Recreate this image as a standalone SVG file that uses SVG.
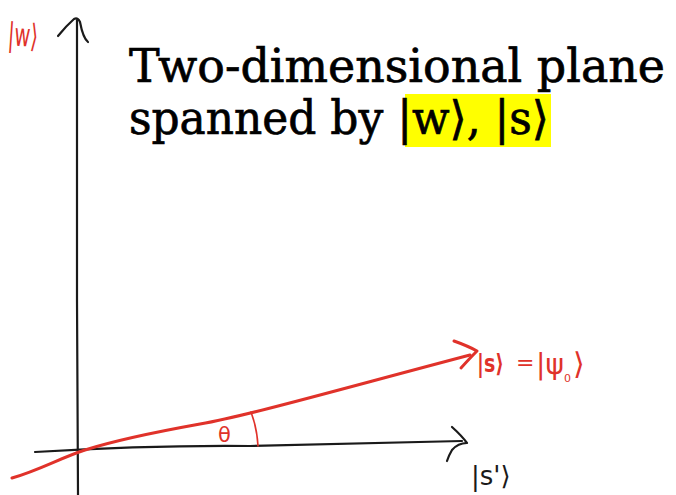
<svg xmlns="http://www.w3.org/2000/svg" width="676" height="495" viewBox="0 0 676 495">
<style>
.title{font-family:"DejaVu Serif","Liberation Serif",serif;font-size:46px;fill:#000;stroke:#000;stroke-width:0.7}
.ink{fill:none;stroke:#1a1a1a;stroke-width:2.2;stroke-linecap:round;stroke-linejoin:round}
.red{fill:none;stroke:#e0322a;stroke-width:3;stroke-linecap:round;stroke-linejoin:round}
.redthin{fill:none;stroke:#e0322a;stroke-width:1.6;stroke-linecap:round}
.hand{font-family:"DejaVu Sans","Liberation Sans",sans-serif;fill:#e0322a}
.handk{font-family:"DejaVu Sans","Liberation Sans",sans-serif;fill:#1a1a1a}
</style>
<rect width="676" height="495" fill="#fff"/>
<g id="title">
<rect x="405" y="94" width="146" height="53" fill="#ffff00"/>
<text class="title" x="129" y="82" textLength="536" lengthAdjust="spacingAndGlyphs">Two-dimensional plane</text>
<text class="title" x="129" y="134" textLength="420" lengthAdjust="spacingAndGlyphs">spanned by |w⟩, |s⟩</text>
</g>
<g id="connectors">
<g id="axis-w">
<path class="ink" d="M78,495 L77,300 L77,20"/>
<path class="ink" d="M58,36 Q66,26 74,19 Q78,17 80,22 Q83,38 88,42"/>
</g>
<g id="axis-sprime">
<path class="ink" d="M35,452 Q150,445 250,446 Q360,443 462,441"/>
<path class="ink" d="M452,427 Q462,436 467,443 Q458,443 452,450 Q449,455 447,461"/>
</g>
<g id="vector-s">
<path class="red" d="M12,478 C40,470 60,458 85,450 S150,433 200,424 S330,392 470,355"/>
<path class="red" d="M454,341 Q468,346 477,351 Q470,358 461,368"/>
</g>
<path id="angle" class="redthin" d="M251,412 Q257,428 258,446"/>
</g>
<g id="labels">
<text class="hand" x="8" y="46" font-size="32" transform="rotate(4 20 35)" textLength="30" lengthAdjust="spacingAndGlyphs">|w⟩</text>
<text class="hand" x="477" y="372" font-size="25" font-weight="bold" textLength="27" lengthAdjust="spacingAndGlyphs">|s⟩</text>
<text class="hand" x="516" y="370" font-size="22">=</text>
<text class="hand" x="536" y="374" font-size="28">|ψ<tspan font-size="11" dy="8">0</tspan><tspan dy="-8" dx="2" font-size="30">⟩</tspan></text>
<text class="hand" x="218" y="442" font-size="21">θ</text>
<text class="handk" x="471" y="485" font-size="26">|s'⟩</text>
</g>
</svg>
